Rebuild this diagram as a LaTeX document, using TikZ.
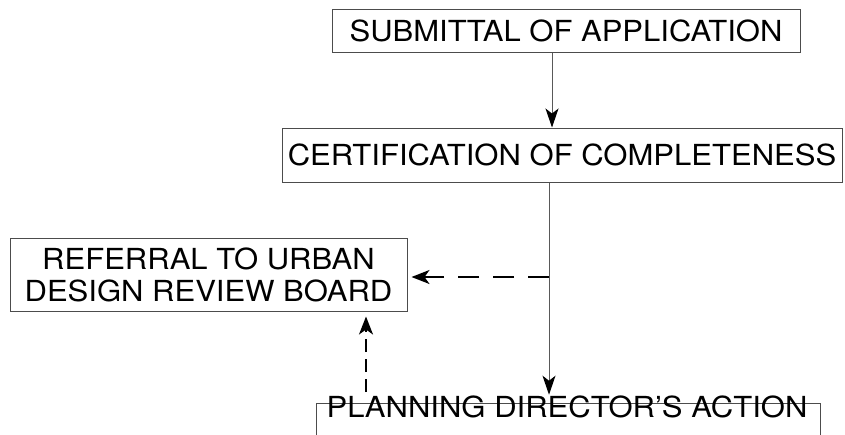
\documentclass[tikz,border=0pt]{standalone}
\usepackage{fontspec}
\setmainfont{TeX Gyre Heros}[FakeStretch=1.07]
\usetikzlibrary{arrows.meta}
\begin{document}
\begin{tikzpicture}[x=1pt,y=-1pt,
  boxstyle/.style={draw=black!70, line width=1pt, inner sep=0pt, font=\fontsize{29}{31}\selectfont},
  txtstyle/.style={inner sep=0pt, font=\fontsize{29}{31}\selectfont},
  solidarrow/.style={draw=black!65, line width=1pt, -{Stealth[black,length=19pt,width=13pt,inset=5pt]}},
  dasharrow/.style={draw=black, line width=1.8pt, -{Stealth[length=18pt,width=14pt,inset=5pt]}}]
\clip (0,0) rectangle (845,434);
\node[boxstyle, minimum width=468pt, minimum height=43pt] (sub) at (566,30.5) {SUBMITTAL OF APPLICATION};
\node[boxstyle, minimum width=560pt, minimum height=54pt] (cert) at (562,155) {CERTIFICATION OF COMPLETENESS};
\node[boxstyle, minimum width=397pt, minimum height=73pt, align=center] (ref) at (208.5,274.5) {REFERRAL TO URBAN\\[1pt]DESIGN REVIEW BOARD};
\node[boxstyle, minimum width=504pt, minimum height=60pt, anchor=north] (pda) at (568,403) {};
\node[txtstyle] (pdatext) at (567,407) {PLANNING DIRECTOR’S ACTION};
\coordinate (ax) at (552,0);
\coordinate (vx) at (549,0);
\coordinate (branch) at (549,277);
\coordinate (dstart) at (366,392);
\draw[solidarrow] (sub.south -| ax) -- (cert.north -| ax);
\draw[solidarrow, shorten >=1pt] (cert.south -| vx) -- (pdatext.north -| vx);
\draw[dasharrow, dash pattern=on 21pt off 14pt, shorten >=4pt] (branch) -- (ref.east |- branch);
\draw[dasharrow, dash pattern=on 13pt off 7pt, shorten >=5pt] (dstart) -- (ref.south -| dstart);
\end{tikzpicture}
\end{document}
